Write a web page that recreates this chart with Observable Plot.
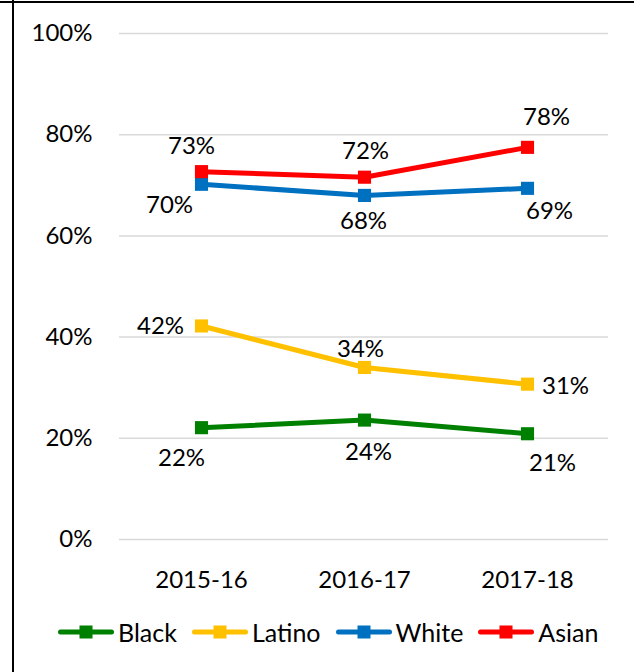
<!DOCTYPE html>
<html>
<head>
<meta charset="utf-8">
<script src="https://cdn.jsdelivr.net/npm/d3@7"></script>
<script src="https://cdn.jsdelivr.net/npm/@observablehq/plot@0.6"></script>
<style>
  html, body { margin: 0; padding: 0; background: #fff; }
  body { width: 634px; height: 672px; position: relative; overflow: hidden; font-family: Lato, "Open Sans", sans-serif; }
  #chart { position: absolute; left: 0; top: 0; }
  .bl { position: absolute; left: 12px; top: 0; width: 2px; height: 672px; background: #000; }
  .bt { position: absolute; left: 0; top: 1px; width: 634px; height: 2px; background: #000; }
  #legend { position: absolute; left: 58px; top: 617px; height: 30px; display: flex; align-items: center; font-size: 25px; color: #000; }
  .item { display: flex; align-items: center; margin-right: 15px; }
  .item svg { margin-right: 4px; }
</style>
</head>
<body>
<div id="chart"></div>
<div class="bl"></div>
<div class="bt"></div>
<div id="legend"></div>
<script>
// Data
const years = ["2015-16", "2016-17", "2017-18"];
const seriesNames = ["Black", "Latino", "White", "Asian"];
const black = [22.1, 23.6, 20.9];
const latino = [42.2, 34.0, 30.7];
const white = [70.2, 68.0, 69.4];
const asian = [72.7, 71.6, 77.5];
const yTicks = [0, 20, 40, 60, 80, 100];

// Styling
const colors = {Black: "#008000", Latino: "#FFC000", White: "#0070C0", Asian: "#FF0000"};
// label offsets (dx, dy) relative to each point, per series
const labelOffsets = {
  Black:  [[-20, 31], [4, 32], [25, 30]],
  Latino: [[-41, 0], [-4, -18], [38, 2]],
  White:  [[-32, 21], [-1, 26], [22, 23]],
  Asian:  [[-10, -25], [1, -26], [19, -30]]
};

const valuesBySeries = {Black: black, Latino: latino, White: white, Asian: asian};
const rows = [];
for (const s of seriesNames) {
  valuesBySeries[s].forEach((v, i) => rows.push({series: s, year: years[i], value: v, idx: i}));
}

const fontFamily = "Lato, 'Open Sans', sans-serif";
const marks = [
  Plot.gridY(yTicks, {stroke: "#d9d9d9", strokeOpacity: 1, strokeWidth: 1.5}),
  Plot.axisY({ticks: yTicks, tickSize: 0, tickPadding: 27, tickFormat: d => d + "%", fontSize: 24, fill: "#000", label: null}),
  Plot.axisX({tickSize: 0, tickPadding: 31, fontSize: 24, fill: "#000", label: null})
];
for (const s of seriesNames) {
  const data = rows.filter(r => r.series === s);
  marks.push(Plot.line(data, {x: "year", y: "value", stroke: colors[s], strokeWidth: 5}));
  marks.push(Plot.dot(data, {x: "year", y: "value", symbol: "square", r: 7.4, fill: colors[s], stroke: "none"}));
}
for (const s of seriesNames) {
  const data = rows.filter(r => r.series === s);
  data.forEach((r, i) => {
    marks.push(Plot.text([r], {
      x: "year", y: "value", text: d => Math.round(d.value) + "%",
      dx: labelOffsets[s][i][0], dy: labelOffsets[s][i][1],
      fontSize: 24, fill: "#000", textAnchor: "middle", lineAnchor: "middle"
    }));
  });
}

const chart = Plot.plot({
  width: 634,
  height: 600,
  marginLeft: 119,
  marginRight: 26,
  marginTop: 33,
  marginBottom: 61,
  style: {fontFamily, background: "transparent", color: "#000"},
  x: {type: "point", domain: years, padding: 0.5},
  y: {domain: [0, 100]},
  marks
});
document.getElementById("chart").appendChild(chart);

// Legend
const legend = document.getElementById("legend");
for (const s of seriesNames) {
  const item = document.createElement("div");
  item.className = "item";
  item.innerHTML = `<svg width="56" height="16"><line x1="2.5" y1="8" x2="53.5" y2="8" stroke="${colors[s]}" stroke-width="5" stroke-linecap="round"/><rect x="21.5" y="1.5" width="13" height="13" fill="${colors[s]}"/></svg><span>${s}</span>`;
  legend.appendChild(item);
}
</script>
</body>
</html>
